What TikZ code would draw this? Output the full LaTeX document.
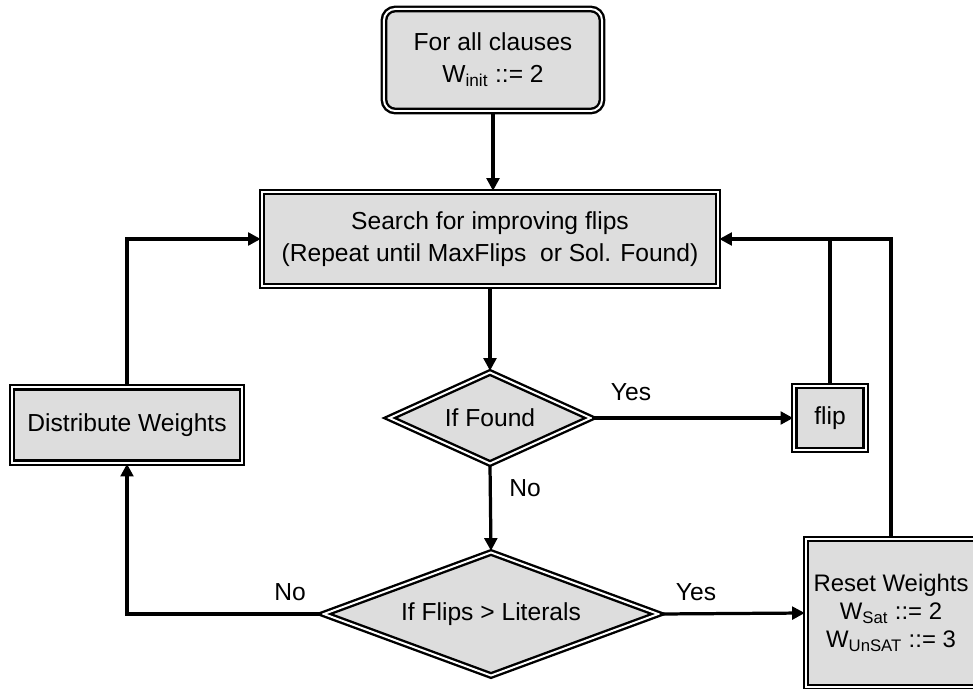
\documentclass[tikz,border=0pt]{standalone}
\usepackage{fontspec}
\setmainfont{Liberation Sans}
\usetikzlibrary{arrows.meta,shapes.geometric}
\definecolor{boxgray}{RGB}{221,221,221}
\newcommand\flowfont{\fontsize{17.5}{22.8}\selectfont}

\begin{document}
\begin{tikzpicture}[x=0.025cm,y=-0.025cm,>={Triangle[length=9pt,width=9pt]},
    line width=2.3pt,
    dbl/.style={draw,fill=boxgray,double=white,double distance=1.4pt,line width=1.7pt,
        align=center,inner sep=0pt,font=\flowfont},
    startbox/.style={dbl,rectangle,rounded corners=8pt},
    flowbox/.style={dbl,rectangle},
    testbox/.style={dbl,diamond,aspect=2},
    lbl/.style={font=\flowfont}]
            \clip (0,0) rectangle (973,689);
            \node [startbox,minimum width=5.45cm,minimum height=2.55cm] (init) at (493,60)
                {For all clauses\\W\textsubscript{init} ::= 2};
            \node [flowbox,minimum width=11.4cm,minimum height=2.35cm] (search) at (490,239)
                {Search for improving flips\\(Repeat until MaxFlips~ or Sol. Found)};
            \node [testbox,minimum width=5.05cm,minimum height=2.3cm] (found) at (490,418) {If Found};
            \node [flowbox,minimum width=1.78cm,minimum height=1.6cm] (flip) at (830,418) {flip};
            \node [flowbox,minimum width=5.75cm,minimum height=1.88cm] (dist) at (127,425) {Distribute Weights};
            \node [testbox,minimum width=8.38cm,minimum height=3.1cm] (flips) at (491,614) {If Flips > Literals};
            \node [flowbox,minimum width=4.25cm,minimum height=3.7cm,font=\fontsize{17}{20}\selectfont] (reset) at (891,613)
                {Reset Weights\\W\textsubscript{Sat} ::= 2\\W\textsubscript{UnSAT} ::= 3};
            \draw [->] (init.south) -- (init.south |- search.north);
            \draw [->] (search.south) -- (found.north);
            \draw [->] (found.east) -- (flip.west);
            \draw [->] (found.south) -- (flips.north);
            \draw [->] (flips.east) -- (reset.west);
            \draw [->] (flips.west) -- (dist.south |- flips.west) -- (dist.south);
            \draw [->] (dist.north) -- (dist.north |- search.west) -- (search.west);
            \draw [->] (reset.north) -- (reset.north |- search.east) -- (search.east);
            \draw (flip.north) -- (flip.north |- search.east);
            \node [lbl] (yes1) at (631,392) {Yes};
            \node [lbl] (no1) at (525,488) {No};
            \node [lbl] (no2) at (290,592) {No};
            \node [lbl] (yes2) at (696,592) {Yes};
\end{tikzpicture}
\end{document}
